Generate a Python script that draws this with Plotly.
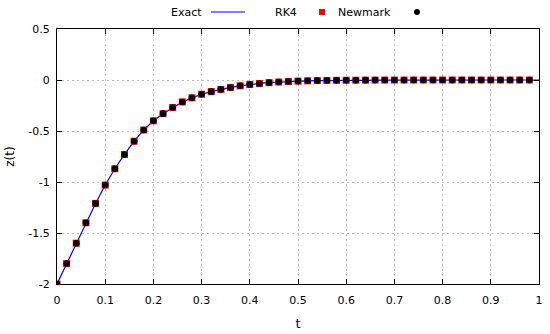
import plotly.graph_objects as go

t_pts = [round(0.02 * i, 2) for i in range(50)]
z_vals = [-2.0, -1.80, -1.60, -1.40, -1.21, -1.03, -0.87, -0.73, -0.60, -0.49,
          -0.40, -0.33, -0.27, -0.215, -0.175, -0.14, -0.114, -0.092, -0.073, -0.057,
          -0.044, -0.034, -0.026, -0.020, -0.015, -0.011, -0.008, -0.006, -0.0045, -0.0033,
          -0.0024, -0.0018, -0.0013, -0.0009, -0.0007, -0.0005, -0.0004, -0.0003, -0.0002, -0.00015,
          -0.0001, -0.00008, -0.00006, -0.00004, -0.00003, -0.00002, -0.00002, -0.00001, -0.00001, -0.00001]
t_exact = t_pts + [1.0]
z_exact = z_vals + [0.0]

x_ticks = [0, 0.1, 0.2, 0.3, 0.4, 0.5, 0.6, 0.7, 0.8, 0.9, 1]
x_labels = ["0", "0.1", "0.2", "0.3", "0.4", "0.5", "0.6", "0.7", "0.8", "0.9", "1"]
y_ticks = [-2, -1.5, -1, -0.5, 0, 0.5]
y_labels = ["-2", "-1.5", "-1", "-0.5", "0", "0.5"]
series_names = ["Exact", "RK4", "Newmark"]

W, H = 550, 334
L, R, T, B = 57, 11, 29, 50
PW, PH = W - L - R, H - T - B


def px(xp):
    return (xp - L) / PW


def py(yp):
    return (H - B - yp) / PH


font = dict(family="DejaVu Sans", size=11, color="black")

fig = go.Figure()
fig.add_trace(go.Scatter(x=t_exact, y=z_exact, mode="lines", name=series_names[0],
                         line=dict(color="#0000ff", width=1.2), showlegend=False))
fig.add_trace(go.Scatter(x=t_pts, y=z_vals, mode="markers", name=series_names[1],
                         marker=dict(symbol="square", color="#ff0000", size=7, line=dict(width=0)),
                         showlegend=False))
fig.add_trace(go.Scatter(x=t_pts, y=z_vals, mode="markers", name=series_names[2],
                         marker=dict(symbol="circle", color="black", size=6.6, line=dict(width=0)),
                         showlegend=False))

axis_common = dict(showline=True, linecolor="black", linewidth=1, mirror="ticks",
                   ticks="inside", ticklen=5, tickcolor="black",
                   showgrid=True, gridcolor="#bdbdbd", griddash="2px,3px", gridwidth=1,
                   zeroline=False, tickfont=font)

# custom gnuplot-style key: text followed by sample
ly = 12
annotations = [
    dict(text=series_names[0], x=px(204), y=py(ly), xref="paper", yref="paper",
         xanchor="right", yanchor="middle", showarrow=False, font=font),
    dict(text=series_names[1], x=px(299), y=py(ly), xref="paper", yref="paper",
         xanchor="right", yanchor="middle", showarrow=False, font=font),
    dict(text=series_names[2], x=px(393), y=py(ly), xref="paper", yref="paper",
         xanchor="right", yanchor="middle", showarrow=False, font=font),
]
shapes = [
    dict(type="line", xref="paper", yref="paper", x0=px(211), x1=px(245), y0=py(ly), y1=py(ly),
         line=dict(color="#0000ff", width=1.2)),
    dict(type="rect", xref="paper", yref="paper", x0=px(319), x1=px(325), y0=py(ly - 3), y1=py(ly + 3),
         fillcolor="#ff0000", line=dict(width=0)),
    dict(type="circle", xref="paper", yref="paper", x0=px(414), x1=px(420), y0=py(ly - 3), y1=py(ly + 3),
         fillcolor="black", line=dict(width=0)),
]

fig.update_layout(
    width=W, height=H,
    margin=dict(l=L, r=R, t=T, b=B, autoexpand=False),
    paper_bgcolor="white", plot_bgcolor="white",
    font=font,
    showlegend=False,
    annotations=annotations,
    shapes=shapes,
    xaxis=dict(range=[0, 1], tickvals=x_ticks, ticktext=x_labels, ticklabelstandoff=6,
               title=dict(text="t", font=dict(family="DejaVu Sans", size=13, color="black"), standoff=12),
               automargin=False, **axis_common),
    yaxis=dict(range=[-2, 0.5], tickvals=y_ticks, ticktext=y_labels, ticklabelstandoff=4,
               title=dict(text="z(t)", font=dict(family="DejaVu Sans", size=12, color="black"), standoff=11),
               automargin=False, **axis_common),
)

fig.write_html("out.html", config={"displayModeBar": False},
               post_script="document.body.style.margin='0';")
